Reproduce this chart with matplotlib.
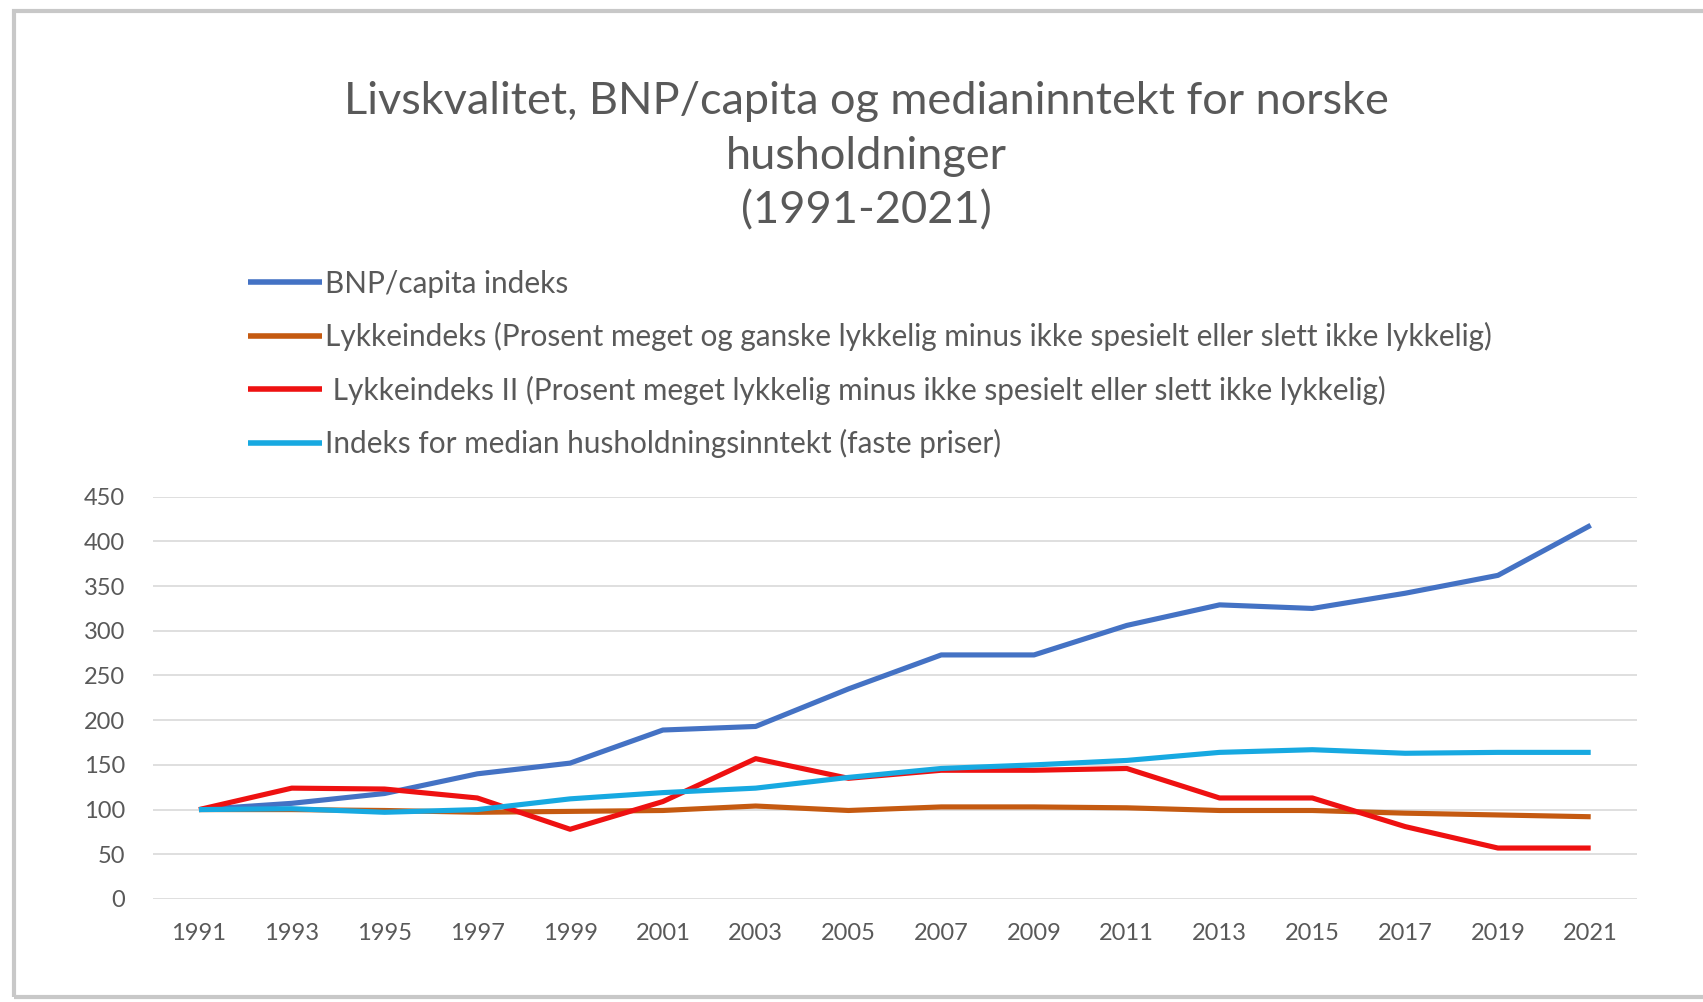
import matplotlib
matplotlib.use('Agg')
import matplotlib.pyplot as plt
from matplotlib.patches import Rectangle

plt.rcParams['font.family'] = ['Lato', 'DejaVu Sans']

years = [1991, 1993, 1995, 1997, 1999, 2001, 2003, 2005, 2007, 2009, 2011, 2013, 2015, 2017, 2019, 2021]
bnp = [100, 107, 118, 140, 152, 189, 193, 235, 273, 273, 306, 329, 325, 342, 362, 418]
lykke = [100, 100, 99, 97, 98, 99, 104, 99, 103, 103, 102, 99, 99, 96, 94, 92]
lykke2 = [100, 124, 123, 113, 78, 109, 157, 135, 144, 144, 146, 113, 113, 81, 57, 57]
median = [100, 101, 97, 100, 112, 119, 124, 136, 146, 150, 155, 164, 167, 163, 164, 164]

labels = ['BNP/capita indeks',
          'Lykkeindeks (Prosent meget og ganske lykkelig minus ikke spesielt eller slett ikke lykkelig)',
          ' Lykkeindeks II (Prosent meget lykkelig minus ikke spesielt eller slett ikke lykkelig)',
          'Indeks for median husholdningsinntekt (faste priser)']
colors = ['#4472C4', '#C55A11', '#EE1111', '#17A9E1']
yticks = [0, 50, 100, 150, 200, 250, 300, 350, 400, 450]

title = 'Livskvalitet, BNP/capita og medianinntekt for norske\nhusholdninger\n(1991-2021)'
grey = '#595959'

fig = plt.figure(figsize=(17.03, 10.02), dpi=100)
ax = fig.add_axes([0.0896, 0.1028, 0.9613 - 0.0896, 0.5043 - 0.1028])

series = [bnp, lykke, lykke2, median]
for i, (s, c, l) in enumerate(zip(series, colors, labels)):
    ax.plot(years, s, color=c, lw=3.7, label=l, zorder=3 + i, solid_capstyle='butt')

ax.set_xlim(1990, 2022)
ax.set_ylim(0, 450)
ax.set_xticks(years)
ax.set_yticks(yticks)
ax.tick_params(length=0, labelsize=17, labelcolor=grey)
ax.tick_params(axis='x', pad=17)
ax.tick_params(axis='y', pad=20)
ax.grid(axis='y', color='#D9D9D9', lw=1.2)
ax.set_axisbelow(True)
for sp in ax.spines.values():
    sp.set_visible(False)

fig.text(0.5085, 0.844, title, ha='center', va='center', fontsize=32.5, color=grey, linespacing=1.4)

leg = ax.legend(loc='upper left', bbox_to_anchor=(0.1454, 0.731), bbox_transform=fig.transFigure,
                frameon=False, fontsize=21.4, handlelength=2.5, handletextpad=0.1,
                labelspacing=0.82, borderaxespad=0, borderpad=0)
for t in leg.get_texts():
    t.set_color(grey)
for h in leg.get_lines():
    h.set_linewidth(4)

fig.patches.append(Rectangle((14 / 1703, 5 / 1002), 1.02, 986 / 1002, transform=fig.transFigure,
                             fill=False, edgecolor='#C8C8C8', lw=3))

fig.savefig('out.png', dpi=100)
